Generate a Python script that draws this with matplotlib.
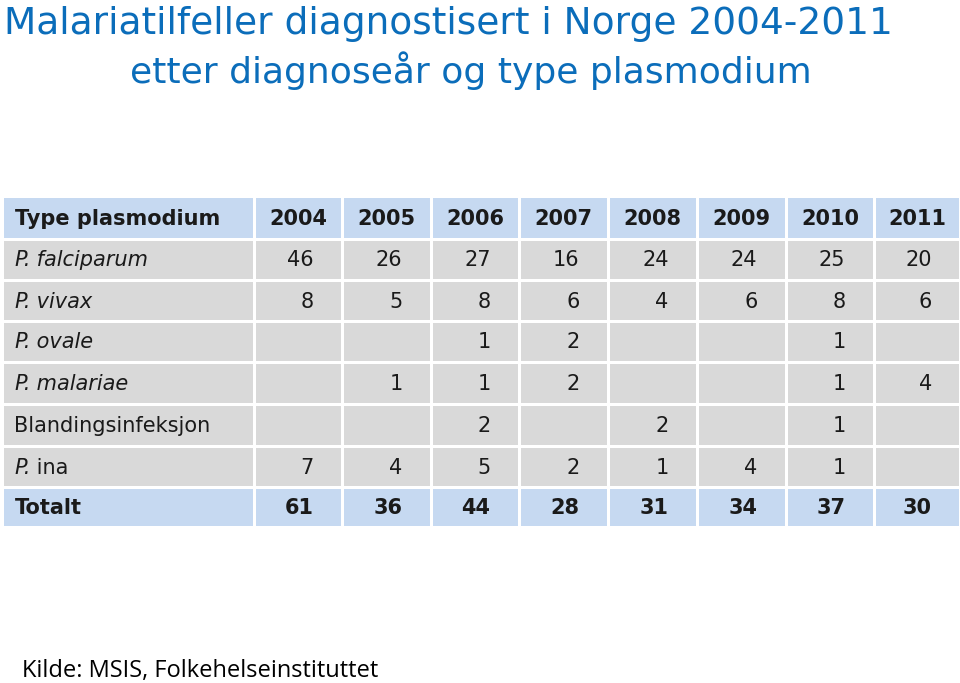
import matplotlib
matplotlib.use("Agg")
import matplotlib.pyplot as plt
from matplotlib.patches import Rectangle

title_lines = ["Malariatilfeller diagnostisert i Norge 2004-2011",
               "etter diagnoseår og type plasmodium"]
source = "Kilde: MSIS, Folkehelseinstituttet"

header = "Type plasmodium"
years = ["2004", "2005", "2006", "2007", "2008", "2009", "2010", "2011"]
row_labels = ["P. falciparum", "P. vivax", "P. ovale", "P. malariae",
              "Blandingsinfeksjon", "P. ina"]
falciparum = [46, 26, 27, 16, 24, 24, 25, 20]
vivax = [8, 5, 8, 6, 4, 6, 8, 6]
ovale = [None, None, 1, 2, None, None, 1, None]
malariae = [None, 1, 1, 2, None, None, 1, 4]
blanding = [None, None, 2, None, 2, None, 1, None]
ina = [7, 4, 5, 2, 1, 4, 1, None]
total_label = "Totalt"
totalt = [61, 36, 44, 28, 31, 34, 37, 30]

body = [falciparum, vivax, ovale, malariae, blanding, ina]

W, H = 960, 683
fig = plt.figure(figsize=(W / 100, H / 100), dpi=100)
ax = fig.add_axes([0, 0, 1, 1])
ax.set_xlim(0, W)
ax.set_ylim(H, 0)
ax.axis("off")

TITLE_C = "#0B6DBA"
BLUE = "#C6D9F1"
GRAY = "#D9D9D9"
TXT = "#1A1A1A"

# title
ax.text(4, 34, title_lines[0], fontsize=27, color=TITLE_C,
        family="DejaVu Sans", ha="left", va="baseline")
ax.text(130, 83, title_lines[1], fontsize=26, color=TITLE_C,
        family="DejaVu Sans", ha="left", va="baseline")

# table geometry
col_edges = [4, 254, 342, 431, 519, 608, 697, 786, 874, 959]
row_edges = [198, 239, 280, 321, 362, 404, 446, 487, 526]
gap = 3

def cell(ci, ri, color):
    x0 = col_edges[ci] + (gap / 2 if ci > 0 else 0)
    x1 = col_edges[ci + 1] - (gap / 2 if ci < len(col_edges) - 2 else 0)
    y0 = row_edges[ri] + (gap / 2 if ri > 0 else 0)
    y1 = row_edges[ri + 1] - (gap / 2 if ri < len(row_edges) - 2 else 0)
    ax.add_patch(Rectangle((x0, y0), x1 - x0, y1 - y0, facecolor=color,
                           edgecolor="none"))
    return x0, x1, (y0 + y1) / 2

FS = 15
fam = "DejaVu Sans"

def row_label(x, yc, label):
    if label.startswith("P. "):
        t = ax.text(x, yc + 1, "P.", fontsize=FS, style="italic",
                    family=fam, color=TXT, ha="left", va="center")
        rest = label[3:]
        rest_style = "normal" if rest == "ina" else "italic"
        ax.annotate(" " + rest, xy=(1, 0), xycoords=t, fontsize=FS,
                    style=rest_style, family=fam, color=TXT,
                    ha="left", va="bottom")
    else:
        ax.text(x, yc + 1, label, fontsize=FS, family=fam, color=TXT,
                ha="left", va="center")

# header row
x0, x1, yc = cell(0, 0, BLUE)
ax.text(x0 + 11, yc + 1, header, fontsize=FS, fontweight="bold",
        family=fam, color=TXT, ha="left", va="center")
for j, yr in enumerate(years):
    x0, x1, yc = cell(j + 1, 0, BLUE)
    ax.text((x0 + x1) / 2, yc + 1, yr, fontsize=FS, fontweight="bold",
            family=fam, color=TXT, ha="center", va="center")

# body rows
for i, (lab, vals) in enumerate(zip(row_labels, body)):
    x0, x1, yc = cell(0, i + 1, GRAY)
    row_label(x0 + 10, yc, lab)
    for j, v in enumerate(vals):
        x0, x1, yc = cell(j + 1, i + 1, GRAY)
        if v is not None:
            ax.text(x1 - 27, yc + 1, str(v), fontsize=FS, family=fam,
                    color=TXT, ha="right", va="center")

# total row
ri = len(row_labels) + 1
x0, x1, yc = cell(0, ri, BLUE)
ax.text(x0 + 11, yc + 1, total_label, fontsize=FS, fontweight="bold",
        family=fam, color=TXT, ha="left", va="center")
for j, v in enumerate(totalt):
    x0, x1, yc = cell(j + 1, ri, BLUE)
    ax.text(x1 - 27, yc + 1, str(v), fontsize=FS, fontweight="bold",
            family=fam, color=TXT, ha="right", va="center")

# source
ax.text(22, 677, source, fontsize=17, family="Open Sans", color="#000000",
        ha="left", va="baseline")

fig.savefig("out.png", dpi=100)
